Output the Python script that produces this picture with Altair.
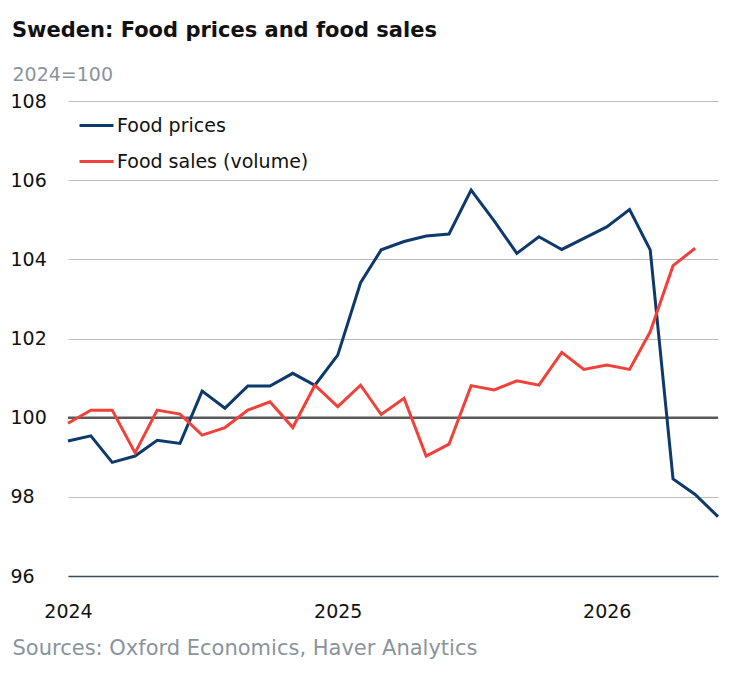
import altair as alt
import pandas as pd

# Monthly index, 2024=100 (Jan 2024 .. Jun 2026)
months = pd.date_range("2024-01-01", "2026-06-01", freq="MS")

food_prices = [
    99.41, 99.54, 98.87, 99.03, 99.43, 99.35, 100.67, 100.24, 100.80, 100.80, 101.12, 100.82,
    101.58, 103.41, 104.24, 104.45, 104.59, 104.64, 105.75, 104.98, 104.15, 104.57, 104.25, 104.53,
    104.82, 105.26, 104.24, 98.45, 98.06, 97.50,
]
food_sales = [
    99.86, 100.19, 100.19, 99.11, 100.19, 100.09, 99.56, 99.75, 100.19, 100.40, 99.75, 100.82,
    100.28, 100.82, 100.08, 100.49, 99.03, 99.33, 100.81, 100.70, 100.93, 100.82, 101.65, 101.22,
    101.33, 101.22, 102.17, 103.84, 104.28, None,
]

series_names = ["Food prices", "Food sales (volume)"]
series_colors = ["#0d3a6b", "#f0413a"]
y_ticks = [96, 98, 100, 102, 104, 106, 108]
baseline_value = [100]

FONT = "DejaVu Sans"

df = pd.DataFrame({"date": months, series_names[0]: food_prices, series_names[1]: food_sales})
long_df = df.melt("date", var_name="series", value_name="value").dropna()

year_ticks = [alt.DateTime(year=y, month=1, date=1) for y in (2024, 2025, 2026)]

x_enc = alt.X(
    "date:T",
    scale=alt.Scale(
        domain=[alt.DateTime(year=2024, month=1, date=1), alt.DateTime(year=2026, month=6, date=1)],
        nice=False,
        padding=0,
    ),
    axis=alt.Axis(
        values=year_ticks,
        format="%Y",
        labelFlush=False,
        labelAlign="center",
        labelPadding=26,
        labelFontSize=19,
        labelColor="#111111",
        ticks=False,
        tickSize=0,
        grid=False,
        domainColor="#3b4d5a",
        domainWidth=1.5,
        title="Sources: Oxford Economics, Haver Analytics",
        titleX=-56,
        titleY=78,
        titleAlign="left",
        titleBaseline="alphabetic",
        titleColor="#8a949c",
        titleFontSize=21,
        titleFontWeight="normal",
    ),
)

y_enc = alt.Y(
    "value:Q",
    scale=alt.Scale(domain=[96, 108], nice=False, zero=False),
    axis=alt.Axis(
        values=y_ticks,
        labelAlign="left",
        labelPadding=58,
        labelFontSize=19,
        labelColor="#111111",
        ticks=False,
        tickSize=0,
        domain=False,
        gridColor="#bdbdbd",
        gridWidth=1,
        title="2024=100",
        titleAngle=0,
        titleX=-56,
        titleY=-21,
        titleAlign="left",
        titleBaseline="alphabetic",
        titleColor="#8a949c",
        titleFontSize=19,
        titleFontWeight="normal",
    ),
)

baseline = (
    alt.Chart(pd.DataFrame({"v": baseline_value}))
    .mark_rule(color="#58595b", strokeWidth=2.5)
    .encode(y=alt.Y("v:Q", scale=alt.Scale(domain=[96, 108], nice=False, zero=False)))
)

lines = (
    alt.Chart(long_df)
    .mark_line(strokeWidth=3)
    .encode(
        x=x_enc,
        y=y_enc,
        color=alt.Color(
            "series:N",
            scale=alt.Scale(domain=series_names, range=series_colors),
            legend=alt.Legend(
                title=None,
                orient="none",
                legendX=10,
                legendY=6,
                symbolType="stroke",
                symbolSize=1156,
                symbolStrokeWidth=3,
                labelFontSize=19,
                labelColor="#111111",
                labelOffset=2,
                labelLimit=400,
                rowPadding=7,
            ),
        ),
    )
)

chart = (
    alt.layer(baseline, lines)
    .properties(
        width=650,
        height=475,
        padding={"left": 2, "top": 12, "right": 5, "bottom": 5},
        title=alt.TitleParams(
            "Sweden: Food prices and food sales",
            anchor="start",
            frame="bounds",
            fontSize=21,
            fontWeight=600,
            color="#111111",
            dx=2,
            offset=24,
        ),
    )
    .configure(font=FONT)
    .configure_view(stroke=None)
)

chart.save("out.html", embed_options={"renderer": "svg", "actions": False})
